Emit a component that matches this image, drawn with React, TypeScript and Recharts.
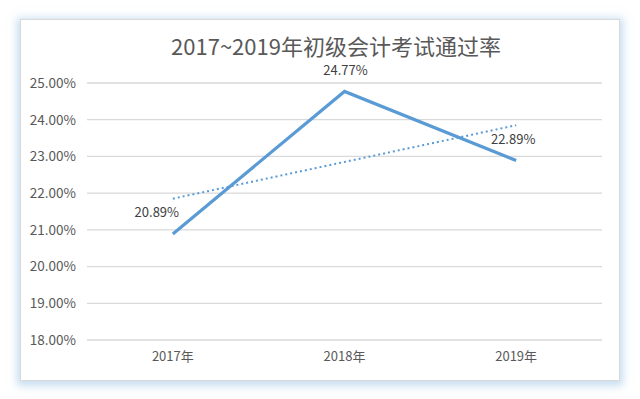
import React from 'react';
import { LineChart, Line, XAxis, YAxis, CartesianGrid, LabelList } from 'recharts';

const categories = ['2017年', '2018年', '2019年'];
const passRate = [20.89, 24.77, 22.89];
const trendRate = [21.85, 22.85, 23.85];
const yTicks = [18, 19, 20, 21, 22, 23, 24, 25];
const title = '2017~2019年初级会计考试通过率';

const data = categories.map((c, i) => ({ year: c, rate: passRate[i], trend: trendRate[i] }));

const FONT = '"Noto Sans CJK SC", "Noto Sans", sans-serif';
const labelOffsets = [{ dx: -16 }, { dx: 1 }, { dx: -3 }];

const renderLabel = (props: any) => {
  const { x, y, value, index } = props;
  const off = labelOffsets[index] || { dx: 0 };
  return (
    <text
      x={x + off.dx}
      y={y - 22}
      textAnchor="middle"
      dominantBaseline="central"
      fontSize={13}
      fill="#404040"
      fontFamily={FONT}
    >
      {Number(value).toFixed(2)}%
    </text>
  );
};

export default function App() {
  return (
    <div style={{ position: 'absolute', left: 0, top: 0, width: 640, height: 399, background: '#fff', fontFamily: FONT }}>
      <div
        style={{
          position: 'absolute',
          left: 20,
          top: 19,
          width: 600,
          height: 362,
          border: '1px solid #D9D9D9',
          boxSizing: 'border-box',
          boxShadow: '0 2px 8px 3px rgba(155,194,230,0.55)',
          background: '#fff',
        }}
      />
      <div
        style={{
          position: 'absolute',
          left: 136,
          width: 400,
          top: 30,
          textAlign: 'center',
          fontSize: 22,
          color: '#595959',
          lineHeight: '30px',
          whiteSpace: 'nowrap',
        }}
      >
        {title}
      </div>
      <div style={{ position: 'absolute', left: 0, top: 0 }}>
        <LineChart width={640} height={399} data={data} margin={{ top: 83, right: 38, bottom: 29, left: 0 }}>
          <CartesianGrid vertical={false} stroke="#D9D9D9" strokeWidth={1.3} />
          <XAxis
            dataKey="year"
            scale="band"
            axisLine={false}
            tickLine={false}
            height={30}
            tick={{ fill: '#595959', fontSize: 13, fontFamily: FONT }}
            tickMargin={6}
          />
          <YAxis
            width={87}
            domain={[18, 25]}
            ticks={yTicks}
            interval={0}
            axisLine={false}
            tickLine={false}
            tickMargin={5}
            tickFormatter={(v: number) => v.toFixed(2) + '%'}
            tick={{ fill: '#595959', fontSize: 13.5, fontFamily: FONT }}
          />
          <Line
            dataKey="trend"
            stroke="#5B9BD5"
            strokeWidth={2}
            strokeDasharray="2 3"
            dot={false}
            isAnimationActive={false}
          />
          <Line
            dataKey="rate"
            stroke="#5B9BD5"
            strokeWidth={3.2}
            dot={false}
            strokeLinejoin="miter"
            isAnimationActive={false}
          >
            <LabelList dataKey="rate" content={renderLabel} />
          </Line>
        </LineChart>
      </div>
    </div>
  );
}
